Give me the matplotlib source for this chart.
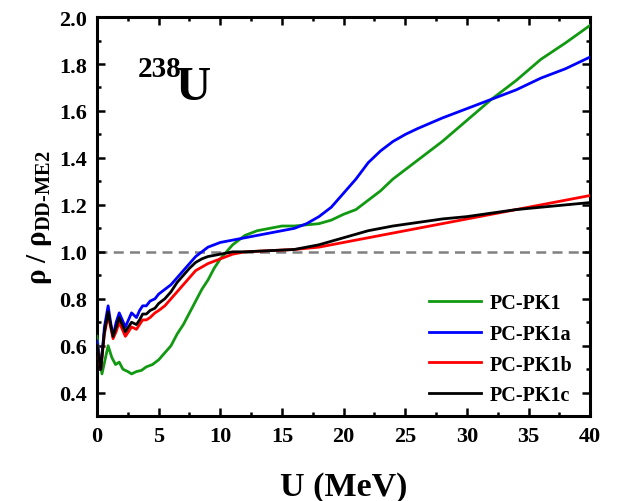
import numpy as np
import matplotlib
matplotlib.use('Agg')
from matplotlib import pyplot as plt
from matplotlib.ticker import MultipleLocator

plt.rcParams['font.family'] = ['Liberation Serif', 'DejaVu Serif']
plt.rcParams['font.weight'] = 'bold'
plt.rcParams['mathtext.fontset'] = 'custom'
plt.rcParams['mathtext.rm'] = 'Liberation Serif:bold'
plt.rcParams['mathtext.bf'] = 'Liberation Serif:bold'
plt.rcParams['mathtext.it'] = 'Liberation Serif:bold:italic'

# PC-PK1
u_pk1 = [0.0, 0.2, 0.4, 0.65, 0.9, 1.2, 1.5, 1.8, 2.1, 2.5, 2.8, 3.2, 3.6, 4.0, 4.5,
         5.0, 5.5, 6.0, 6.5, 7.0, 7.5, 8.0, 8.5, 9.0, 9.5, 10.0, 10.5, 11.0, 12.0,
         13.0, 14.0, 15.0, 16.0, 17.0, 18.0, 19.0, 20.0, 21.0, 22.0, 23.0, 24.0,
         26.0, 28.0, 30.0, 32.0, 34.0, 36.0, 38.0, 40.0]
r_pk1 = [0.64, 0.55, 0.48, 0.54, 0.60, 0.55, 0.52, 0.53, 0.50, 0.49, 0.48, 0.49, 0.495,
         0.51, 0.52, 0.54, 0.57, 0.60, 0.65, 0.69, 0.74, 0.79, 0.84, 0.88, 0.93, 0.97,
         1.00, 1.03, 1.07, 1.09, 1.10, 1.11, 1.11, 1.115, 1.12, 1.135, 1.16, 1.18,
         1.22, 1.26, 1.31, 1.39, 1.47, 1.56, 1.65, 1.73, 1.82, 1.89, 1.965]

# PC-PK1a
u_pk1a = [0.0, 0.3, 0.6, 0.9, 1.1, 1.3, 1.55, 1.8, 2.05, 2.3, 2.55, 2.8, 3.0, 3.2, 3.45,
          3.7, 4.0, 4.3, 4.7, 5.0, 5.5, 6.0, 6.5, 7.0, 7.5, 8.0, 8.5, 9.0, 10.0, 12.0,
          13.0, 14.0, 15.0, 16.0, 17.0, 18.0, 19.0, 20.0, 21.0, 22.0, 23.0, 24.0,
          25.0, 26.0, 28.0, 30.0, 32.0, 34.0, 36.0, 38.0, 40.0]
r_pk1a = [0.62, 0.50, 0.68, 0.77, 0.70, 0.64, 0.70, 0.74, 0.71, 0.68, 0.71, 0.74, 0.73,
          0.72, 0.75, 0.77, 0.77, 0.79, 0.80, 0.82, 0.84, 0.86, 0.89, 0.92, 0.95, 0.98,
          1.00, 1.02, 1.04, 1.06, 1.07, 1.08, 1.09, 1.10, 1.12, 1.15, 1.19, 1.25, 1.31,
          1.38, 1.43, 1.47, 1.50, 1.525, 1.57, 1.61, 1.65, 1.69, 1.74, 1.78, 1.83]

# PC-PK1b
u_pk1b = [0.0, 0.3, 0.6, 0.9, 1.1, 1.3, 1.55, 1.8, 2.05, 2.3, 2.55, 2.8, 3.0, 3.2, 3.45,
          3.7, 4.0, 4.3, 4.7, 5.0, 5.5, 6.0, 6.5, 7.0, 7.5, 8.0, 9.0, 10.0, 11.0, 12.0,
          14.0, 16.0, 18.0, 20.0, 22.0, 24.0, 26.0, 28.0, 30.0, 32.0, 34.0, 36.0, 38.0, 40.0]
r_pk1b = [0.60, 0.50, 0.65, 0.73, 0.68, 0.63, 0.66, 0.70, 0.67, 0.64, 0.66, 0.68, 0.675,
          0.67, 0.69, 0.71, 0.71, 0.72, 0.74, 0.75, 0.77, 0.80, 0.83, 0.86, 0.89, 0.92,
          0.95, 0.97, 0.99, 1.00, 1.005, 1.01, 1.02, 1.04, 1.06, 1.08, 1.10, 1.12, 1.14,
          1.16, 1.18, 1.20, 1.22, 1.24]

# PC-PK1c
u_pk1c = [0.0, 0.3, 0.6, 0.9, 1.1, 1.3, 1.55, 1.8, 2.05, 2.3, 2.55, 2.8, 3.0, 3.2, 3.45,
          3.7, 4.0, 4.3, 4.7, 5.0, 5.5, 6.0, 6.5, 7.0, 7.5, 8.0, 8.5, 9.0, 10.0, 11.0,
          12.0, 14.0, 16.0, 18.0, 20.0, 22.0, 24.0, 26.0, 28.0, 30.0, 32.0, 34.0, 36.0,
          38.0, 40.0]
r_pk1c = [0.60, 0.50, 0.66, 0.745, 0.69, 0.64, 0.68, 0.72, 0.69, 0.66, 0.68, 0.70, 0.695,
          0.69, 0.71, 0.735, 0.735, 0.75, 0.76, 0.78, 0.80, 0.83, 0.87, 0.90, 0.93, 0.955,
          0.97, 0.98, 0.99, 1.00, 1.00, 1.005, 1.01, 1.03, 1.06, 1.09, 1.11, 1.125, 1.14,
          1.15, 1.165, 1.18, 1.19, 1.20, 1.21]

series = [('PC-PK1', u_pk1, r_pk1, '#119911'),
          ('PC-PK1a', u_pk1a, r_pk1a, '#0000ff'),
          ('PC-PK1b', u_pk1b, r_pk1b, '#ff0000'),
          ('PC-PK1c', u_pk1c, r_pk1c, '#000000')]

fig = plt.figure(figsize=(6.18, 5.02), dpi=100)
ax = fig.add_axes([0.157, 0.169, 0.798, 0.795])

ax.axhline(1.0, color='#808080', lw=1.8, ls=(0, (4, 2.5)), zorder=1)
for name, u, r, c in series:
    ax.plot(u, r, color=c, lw=2.0, label=name, zorder=3)

ax.set_xlim(0, 40)
ax.set_ylim(0.3, 2.0)
ax.xaxis.set_major_locator(MultipleLocator(5))
ax.xaxis.set_minor_locator(MultipleLocator(2.5))
ax.yaxis.set_minor_locator(MultipleLocator(0.1))
ax.set_yticks(np.arange(0.4, 2.01, 0.2))
ax.tick_params(which='both', direction='in', top=True, right=True, width=1.8)
ax.tick_params(which='major', length=6, labelsize=16, pad=7)
ax.tick_params(which='minor', length=3)
for s in ax.spines.values():
    s.set_linewidth(2.2)

ax.set_xlabel('U (MeV)', fontsize=24.5, fontweight='bold', labelpad=18)
ax.set_ylabel(r'ρ / ρ$_{\mathbf{DD}\text{-}\mathbf{ME2}}$', fontsize=21,
              fontweight='bold', labelpad=4)

# nucleus label
ax.text(0.083, 0.852, '238', transform=ax.transAxes, fontsize=21,
        fontweight='bold', va='baseline', ha='left')
ax.text(0.160, 0.794, 'U', transform=ax.transAxes, fontsize=35,
        fontweight='bold', va='baseline', ha='left')

leg = ax.legend(loc='lower right', bbox_to_anchor=(1.0, -0.018), frameon=False,
                fontsize=14.5, handlelength=2.6, labelspacing=0.53, handletextpad=0.4)

fig.savefig('out.png', dpi=100)
